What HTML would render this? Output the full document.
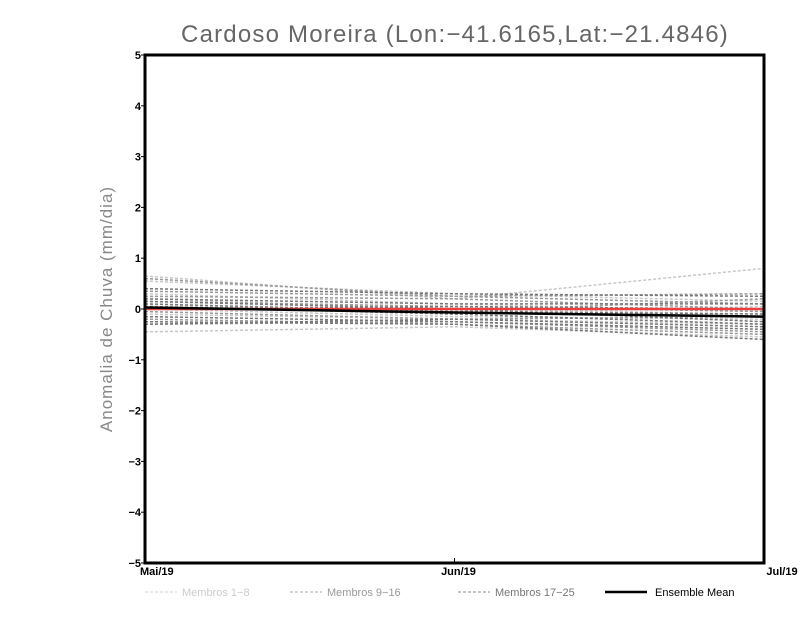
<!DOCTYPE html>
<html><head><meta charset="utf-8"><style>
body{margin:0;background:#fff;width:800px;height:618px;overflow:hidden}
svg{display:block}
text{font-family:"Liberation Sans",sans-serif}
</style></head><body>
<svg id="chart" width="800" height="618" xmlns="http://www.w3.org/2000/svg">
<text x="455" y="42" text-anchor="middle" font-size="24" fill="#666" font-weight="300" letter-spacing="1.2">Cardoso Moreira (Lon:−41.6165,Lat:−21.4846)</text>
<text transform="translate(112,309) rotate(-90)" text-anchor="middle" font-size="17" fill="#888" letter-spacing="1">Anomalia de Chuva (mm/dia)</text>
<g id="members"></g>
<g id="axes"></g>
<g id="legend"></g>
</svg>
<script>
const categories = ["Mai/19","Jun/19","Jul/19"];
const yTicks = [-5,-4,-3,-2,-1,0,1,2,3,4,5];
const members1to8 = [[0.65,0.2,0.8],[0.55,0.3,0.15],[0.2,0.0,-0.1],[-0.45,-0.35,-0.55],[0.1,-0.1,0.05],[-0.1,-0.2,-0.3],[0.3,0.1,-0.05],[0.0,-0.15,-0.2]];
const members9to16 = [[0.6,0.25,0.3],[0.35,0.25,0.1],[0.15,0.05,-0.05],[-0.3,-0.25,-0.45],[0.05,-0.05,0.2],[-0.2,-0.3,-0.5],[0.25,0.2,0.0],[-0.05,-0.2,-0.15]];
const members17to25 = [[0.4,0.3,0.25],[0.2,0.1,0.1],[0.1,-0.05,-0.1],[-0.25,-0.3,-0.6],[0.0,0.05,0.0],[-0.3,-0.2,-0.35],[0.15,0.0,-0.25],[-0.15,-0.25,-0.4],[0.05,-0.1,-0.3]];
const ensembleMean = [0.03,-0.07,-0.15];
const observed = [0.0,0.0,0.0];

const L=145,R=764,T=55,B=563;
const xs=i=>L+i*(R-L)/(categories.length-1);
const ys=v=>T+(5-v)*(B-T)/10;
const NS="http://www.w3.org/2000/svg";
function mk(tag,attrs,parent){const e=document.createElementNS(NS,tag);for(const k in attrs)e.setAttribute(k,attrs[k]);parent.appendChild(e);return e;}
const gm=document.getElementById('members');
function drawLine(arr,color,w,dash,name,parent){
  const p=mk('polyline',{points:arr.map((v,i)=>xs(i)+','+ys(v)).join(' '),fill:'none',stroke:color,'stroke-width':w},parent);
  if(dash)p.setAttribute('stroke-dasharray',dash);
  
  
}
members1to8.forEach(m=>drawLine(m,'#c8c8c8',1.5,'3,2','member-line-1-8',gm));
members9to16.forEach(m=>drawLine(m,'#999999',1.5,'3,2','member-line-9-16',gm));
members17to25.forEach(m=>drawLine(m,'#777777',1.5,'3,2','member-line-17-25',gm));
drawLine(observed,'#e84040',2.5,null,'observed-line',gm);
drawLine(ensembleMean,'#000',2.5,null,'ensemble-mean-line',gm);
const ga=document.getElementById('axes');
const fr=mk('rect',{x:L,y:T,width:R-L,height:B-T,fill:'none',stroke:'#000','stroke-width':3},ga);


yTicks.forEach(v=>{
  const y=ys(v);
  mk('line',{x1:L-4,x2:L,y1:y,y2:y,stroke:'#000','stroke-width':1},ga);
  const t=mk('text',{x:L-4,y:y+4,'text-anchor':'end','font-size':11,'font-weight':'bold'},ga);
  t.textContent=v<0?'−'+(-v):String(v);
  
  
});
categories.forEach((c,i)=>{
  const x=xs(i);
  mk('line',{x1:x,x2:x,y1:B,y2:B-5,stroke:'#000'},ga);
  const t=mk('text',{x:i===0?x-5:(i===categories.length-1?x+18:x+4),y:B+12,'text-anchor':i===0?'start':'middle','font-size':11,'font-weight':'bold'},ga);
  t.textContent=c;
  
  
});
const gl=document.getElementById('legend');
const legendItems=[["Membros 1−8",'#d0d0d0',145,1,'3,2','#ccc'],["Membros 9−16",'#aaa',290,1,'3,2','#999'],["Membros 17−25",'#888',458,1,'3,2','#777'],["Ensemble Mean",'#000',605,2.5,null,'#000']];
legendItems.forEach(it=>{
  const g=mk('g',{},gl);
  
  
  const ln=mk('line',{x1:it[2],x2:it[2]+(it[4]?32:42),y1:592,y2:592,stroke:it[1],'stroke-width':it[3]},g);
  if(it[4])ln.setAttribute('stroke-dasharray',it[4]);
  const t=mk('text',{x:it[2]+(it[4]?37:50),y:596,'font-size':11,fill:it[5]},g);
  t.textContent=it[0];
});
</script>
</body></html>
